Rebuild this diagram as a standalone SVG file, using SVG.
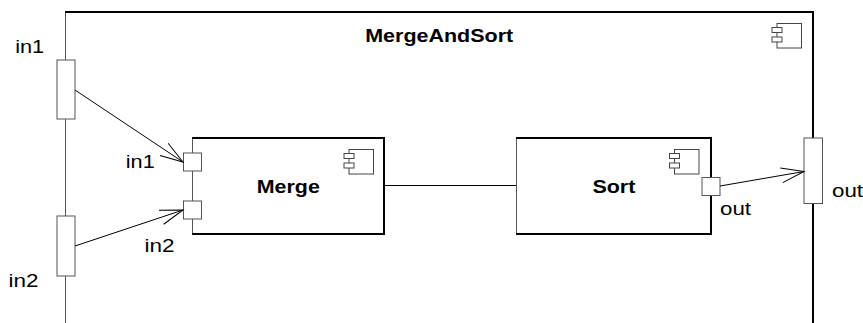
<svg xmlns="http://www.w3.org/2000/svg" xmlns:xlink="http://www.w3.org/1999/xlink" width="863" height="323" viewBox="0 0 863 323">
<style>
.thin{fill:none;stroke:#555;stroke-width:1}
.thick{fill:none;stroke:#000;stroke-width:2}
.port{fill:#fff;stroke:#555;stroke-width:1}
.ic{fill:#fff;stroke:#444;stroke-width:1}
.conn{fill:none;stroke:#000;stroke-width:1}
.lbl{font-family:"Liberation Sans",Arial,sans-serif;font-size:18px;fill:#000}
.ttl{font-family:"Liberation Sans",Arial,sans-serif;font-size:18px;font-weight:bold;fill:#000}
</style>
<defs>
<marker id="open" markerWidth="26" markerHeight="18" refX="24" refY="9" orient="auto" markerUnits="userSpaceOnUse" overflow="visible">
<path d="M1.2,1.6 L24,9 L1.2,16.4" fill="none" stroke="#000" stroke-width="1"/>
</marker>
<g id="cicon">
<rect x="0" y="0" width="24.5" height="24.5" class="ic"/>
<rect x="-5" y="4" width="10" height="5" class="ic"/>
<rect x="-5" y="13.5" width="10" height="5" class="ic"/>
</g>
</defs>
<rect width="863" height="323" fill="#fff"/>

<g id="MergeAndSort">
<line x1="65.5" y1="12" x2="65.5" y2="323" class="thin"/>
<path d="M65,12 H813 V323" class="thick"/>
<text x="365.2" y="41.7" class="ttl" textLength="148" lengthAdjust="spacingAndGlyphs">MergeAndSort</text>
<use xlink:href="#cicon" x="777" y="23.5"/>
</g>

<g id="port-in1-outer">
<rect x="57" y="60" width="18" height="59" class="port"/>
<text x="15.2" y="53.3" class="lbl" textLength="29" lengthAdjust="spacingAndGlyphs">in1</text>
</g>
<g id="port-in2-outer">
<rect x="57" y="216" width="18" height="60" class="port"/>
<text x="8.5" y="286.7" class="lbl" textLength="30" lengthAdjust="spacingAndGlyphs">in2</text>
</g>
<g id="port-out-outer">
<rect x="804" y="138" width="18.5" height="65.5" class="port"/>
<text x="832" y="196.5" class="lbl" textLength="31" lengthAdjust="spacingAndGlyphs">out</text>
</g>

<g id="Merge">
<line x1="192.5" y1="138" x2="192.5" y2="234" class="thin"/>
<path d="M192,138 H384 V234 H192" class="thick"/>
<text x="256.8" y="192.7" class="ttl" textLength="63" lengthAdjust="spacingAndGlyphs">Merge</text>
<use xlink:href="#cicon" x="349" y="149.5"/>
</g>
<g id="port-merge-in1">
<rect x="183.5" y="153" width="18" height="18" class="port"/>
<text x="125.8" y="168.3" class="lbl" textLength="29" lengthAdjust="spacingAndGlyphs">in1</text>
</g>
<g id="port-merge-in2">
<rect x="183.5" y="201" width="18" height="18" class="port"/>
<text x="144.5" y="251.5" class="lbl" textLength="30" lengthAdjust="spacingAndGlyphs">in2</text>
</g>

<g id="Sort">
<line x1="516.5" y1="138" x2="516.5" y2="234" class="thin"/>
<path d="M516,138 H711 V234 H516" class="thick"/>
<text x="592.4" y="193.3" class="ttl" textLength="43" lengthAdjust="spacingAndGlyphs">Sort</text>
<use xlink:href="#cicon" x="674.5" y="149.5"/>
</g>
<g id="port-sort-out">
<rect x="702" y="177.5" width="18" height="18" class="port"/>
<text x="720" y="215" class="lbl" textLength="31" lengthAdjust="spacingAndGlyphs">out</text>
</g>

<g id="connectors">
<line x1="75" y1="90" x2="183" y2="162" class="conn" marker-end="url(#open)"/>
<line x1="75" y1="246" x2="183" y2="210" class="conn" marker-end="url(#open)"/>
<line x1="384" y1="185.5" x2="516" y2="185.5" class="conn"/>
<line x1="720" y1="186" x2="804" y2="171.5" class="conn" marker-end="url(#open)"/>
</g>
</svg>
